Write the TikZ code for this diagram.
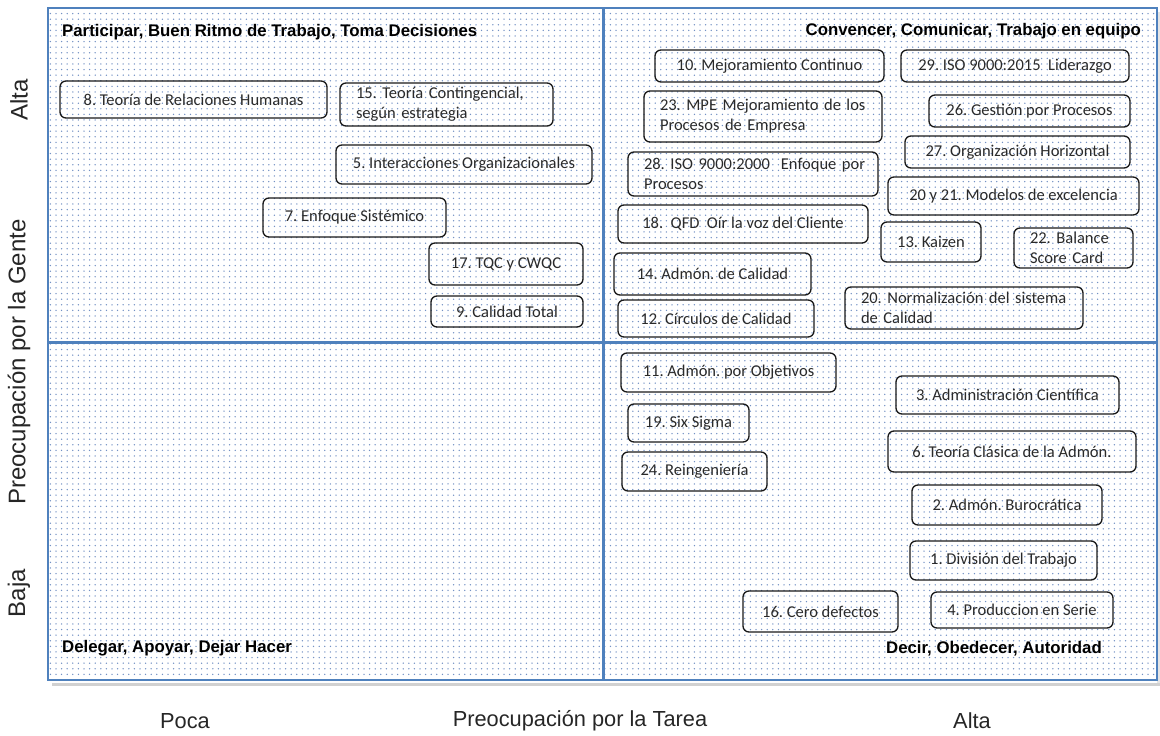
\documentclass[tikz,border=0pt]{standalone}
\usepackage{fontspec}
\setmainfont{Carlito}
\newfontfamily\arialfont{Liberation Sans}
\usetikzlibrary{patterns.meta}
\definecolor{frameblue}{HTML}{4F81BD}
\definecolor{dotblue}{HTML}{7391C4}
\definecolor{boxtext}{HTML}{2A2A2A}
\tikzset{
  box/.style={draw=black!90, line width=1.3pt, rounded corners=6pt,
    anchor=north west, outer sep=0pt, inner sep=0pt, text=boxtext,
    font=\fontsize{16.5}{20}\selectfont\frenchspacing},
  lefttext/.style={align=left},
  quadtitle/.style={font=\arialfont\bfseries\fontsize{16.8}{19}\selectfont, inner sep=0pt},
  axislabel/.style={font=\arialfont\fontsize{21.8}{25}\selectfont, text=black!85, inner sep=0pt},
  sidelabel/.style={axislabel, rotate=90, font=\arialfont\fontsize{24}{28}\selectfont},
  divider/.style={draw=frameblue, line width=3pt},
}
% \bx{name}{x1}{y1}{x2}{y2}{text}: rounded box by its corners
\newcommand\bx[6]{%
  \node[box, minimum width={(#4-#2)*1pt}, minimum height={(#5-#3)*1pt}]
    (#1) at (#2,#3) {#6};}
% \bxl{name}{x1}{y1}{x2}{y2}{line 1}{line 2}: two-line box, text set flush left
\newcommand\bxl[7]{%
  \node[box, lefttext, text width={(#4-#2-32)*1pt}, inner xsep=16pt,
    minimum height={(#5-#3)*1pt}] (#1) at (#2,#3) {\mbox{#6}\\\mbox{#7}};}
\begin{document}
\frenchspacing
\begin{tikzpicture}[x=1pt, y=-1pt]
\useasboundingbox (0,0) rectangle (1160,736);

% shadow, dotted field and frame
\fill[black!18] (52,683) rectangle (1160,686);
\fill[black!10] (1157,12) rectangle (1160,683);
\fill[white] (48,8) rectangle (1157,680);
\fill[pattern={Dots[distance=5.6pt, radius=0.75pt]}, pattern color=dotblue] (48,8) rectangle (1157,680);
\draw[frameblue, line width=2pt] (48,8) rectangle (1157,680);
\coordinate (vtop) at (603,8);
\coordinate (vbot) at (603,680);
\coordinate (hleft) at (48,342);
\coordinate (hright) at (1157,342);
\draw[divider] (vtop) -- (vbot);
\draw[divider] (hleft) -- (hright);

% quadrant titles
\node[quadtitle, anchor=west] (tTL) at (62,32) {Participar, Buen Ritmo de Trabajo, Toma Decisiones};
\node[quadtitle, anchor=east] (tTR) at (1141,31) {Convencer, Comunicar, Trabajo en equipo};
\node[quadtitle, anchor=west] (tBL) at (62,648) {Delegar, Apoyar, Dejar Hacer};
\node[quadtitle, anchor=east] (tBR) at (1102,649) {Decir, Obedecer, Autoridad};

% top left
\bx{b8}{60}{81}{327}{118}{8. Teoría de Relaciones Humanas}
\bxl{b15}{340}{83}{553}{126}{15. Teoría Contingencial,}{según estrategia}
\bx{b5}{336}{145}{592}{184}{5. Interacciones Organizacionales}
\bx{b7}{263}{198}{446}{237}{7. Enfoque Sistémico}
\bx{b17}{429}{243}{583}{285}{17. TQC y CWQC}
\bx{b9}{431}{296}{583}{327}{9. Calidad Total}

% top right
\bx{b10}{655}{50}{884}{82}{10. Mejoramiento Continuo}
\bx{b29}{901}{50}{1129}{82}{29. ISO 9000:2015\ \ Liderazgo}
\bxl{b23}{644}{91}{882}{142}{23. MPE Mejoramiento de los}{Procesos de Empresa}
\bx{b26}{929}{95}{1130}{127}{26. Gestión por Procesos}
\bxl{b28}{628}{152}{878}{196}{28. ISO 9000:2000\ \ Enfoque por}{Procesos}
\bx{b27}{905}{136}{1130}{168}{27. Organización Horizontal}
\bx{b2021}{888}{177}{1139}{215}{20 y 21. Modelos de excelencia}
\bx{b18}{618}{205}{868}{243}{18.\ \ QFD\ \ Oír la voz del Cliente}
\bx{b13}{881}{222}{981}{262}{13. Kaizen}
\bxl{b22}{1014}{228}{1133}{268}{22. Balance}{Score Card}
\bx{b14}{614}{253}{811}{295}{14. Admón. de Calidad}
\bxl{b20}{845}{287}{1083}{329}{20. Normalización del sistema}{de Calidad}
\bx{b12}{618}{300}{814}{337}{12. Círculos de Calidad}

% bottom right
\bx{b11}{621}{353}{836}{392}{11. Admón. por Objetivos}
\bx{b3}{896}{376}{1119}{414}{3. Administración Científica}
\bx{b19}{628}{404}{749}{442}{19. Six Sigma}
\bx{b6}{888}{431}{1136}{472}{6. Teoría Clásica de la Admón.}
\bx{b24}{622}{452}{767}{491}{24. Reingeniería}
\bx{b2}{912}{485}{1102}{525}{2. Admón. Burocrática}
\bx{b1}{910}{541}{1097}{580}{1. División del Trabajo}
\bx{b16}{743}{591}{898}{632}{16. Cero defectos}
\bx{b4}{931}{592}{1113}{628}{4. Produccion en Serie}

% axes
\node[sidelabel] (yhigh) at (19,100) {Alta};
\node[sidelabel] (ytitle) at (19,362) {Preocupación por la Gente};
\node[sidelabel] (ylow) at (19,593) {Baja};
\node[axislabel] (xlow) at (185,721) {Poca};
\node[axislabel] (xtitle) at (580,721) {Preocupación por la Tarea};
\node[axislabel] (xhigh) at (972,721) {Alta};
\end{tikzpicture}
\end{document}
